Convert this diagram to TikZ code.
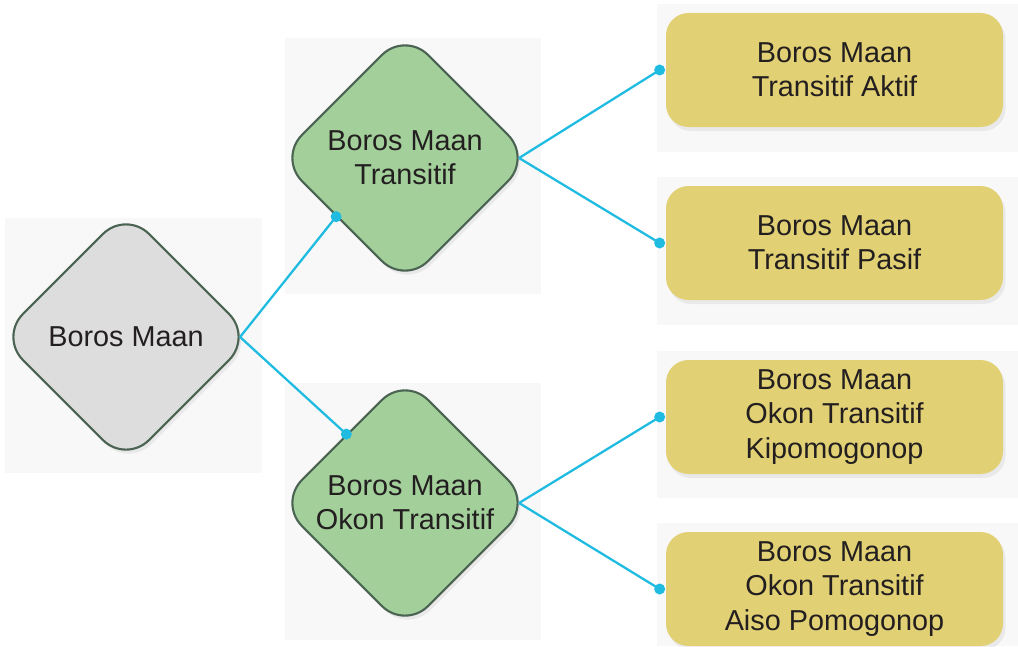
\documentclass[tikz,border=0pt]{standalone}
\usepackage{fontspec}
\setmainfont{Liberation Sans}
\usetikzlibrary{shapes.geometric,shadows,calc}
\definecolor{panelgray}{HTML}{F8F8F8}
\definecolor{rootgray}{HTML}{DDDDDD}
\definecolor{midgreen}{HTML}{A3D09A}
\definecolor{edgegreen}{HTML}{4A6352}
\definecolor{leafyellow}{HTML}{E2D174}
\definecolor{linkcyan}{HTML}{1FBBE0}
\definecolor{inkblack}{HTML}{231F20}
\tikzset{
    panel/.style={fill=panelgray, draw=none},
    diam/.style={diamond, draw=edgegreen, line width=1.2pt, rounded corners=0.65cm,
        minimum width=5.06cm, minimum height=5.06cm, inner sep=0pt, align=center,
        text=inkblack, font=\fontsize{16.4}{19.4}\selectfont,
        drop shadow={opacity=0.12, shadow xshift=0.05cm, shadow yshift=-0.08cm}},
    rootnode/.style={diam, fill=rootgray},
    midnode/.style={diam, fill=midgreen, execute at begin node={\vspace*{0.12cm}}},
    leafnode/.style={rectangle, fill=leafyellow, rounded corners=0.45cm,
        minimum width=6.74cm, minimum height=2.28cm, inner sep=0pt, align=center,
        text=inkblack, font=\fontsize{16.4}{19.4}\selectfont,
        execute at begin node={\vspace*{0.16cm}},
        drop shadow={opacity=0.12, shadow xshift=0.05cm, shadow yshift=-0.08cm}},
    link/.style={draw=linkcyan, line width=1.3pt},
    dot/.style={fill=linkcyan}
}
\begin{document}
\begin{tikzpicture}

    \useasboundingbox (0,0) rectangle (20.36,12.92);

    \fill[panel] (0.10,3.46) rectangle (5.24,8.56);
    \fill[panel] (5.70,7.04) rectangle (10.82,12.16);
    \fill[panel] (5.70,0.12) rectangle (10.82,5.26);
    \fill[panel] (13.14,9.88) rectangle (20.36,12.84);
    \fill[panel] (13.14,6.42) rectangle (20.36,9.38);
    \fill[panel] (13.14,2.96) rectangle (20.36,5.90);
    \fill[panel] (13.14,0) rectangle (20.36,2.46);

    \node[rootnode] (root) at (2.52,6.18) {Boros Maan};
    \node[midnode] (trans) at (8.10,9.76) {Boros Maan\\Transitif};
    \node[midnode] (okon) at (8.10,2.86) {Boros Maan\\Okon Transitif};

    \node[leafnode] (aktif) at (16.69,11.52) {Boros Maan\\Transitif Aktif};
    \node[leafnode] (pasif) at (16.69,8.06) {Boros Maan\\Transitif Pasif};
    \node[leafnode] (kipo) at (16.69,4.58) {Boros Maan\\Okon Transitif\\Kipomogonop};
    \node[leafnode] (aiso) at (16.69,1.14) {Boros Maan\\Okon Transitif\\Aiso Pomogonop};

    \coordinate (root-tip) at ([xshift=-0.27cm]root.east);
    \coordinate (trans-tip) at ([xshift=-0.27cm]trans.east);
    \coordinate (okon-tip) at ([xshift=-0.27cm]okon.east);
    \coordinate (trans-in) at ($(trans.west)!0.46!(trans.south)$);
    \coordinate (okon-in) at ($(okon.west)!0.54!(okon.north)$);
    \coordinate (aktif-in) at ([xshift=-0.12cm]aktif.west);
    \coordinate (pasif-in) at ([xshift=-0.12cm]pasif.west);
    \coordinate (kipo-in) at ([xshift=-0.12cm]kipo.west);
    \coordinate (aiso-in) at ([xshift=-0.12cm]aiso.west);

    \draw[link] (root-tip) -- (trans-in);
    \draw[link] (root-tip) -- (okon-in);
    \draw[link] (trans-tip) -- (aktif-in);
    \draw[link] (trans-tip) -- (pasif-in);
    \draw[link] (okon-tip) -- (kipo-in);
    \draw[link] (okon-tip) -- (aiso-in);

    \foreach \p in {trans-in,okon-in,aktif-in,pasif-in,kipo-in,aiso-in}
        \fill[dot] (\p) circle (0.11);

\end{tikzpicture}
\end{document}
